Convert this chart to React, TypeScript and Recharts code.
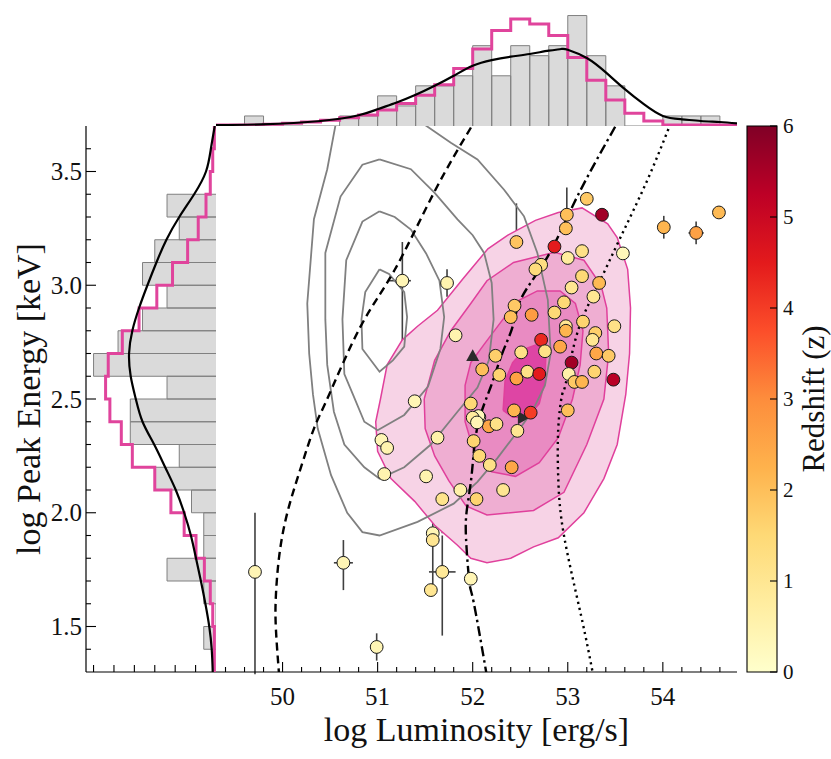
import React from 'react'
import { ComposedChart, Scatter, XAxis, YAxis, ErrorBar, ReferenceArea } from 'recharts'

const FONT = "'Liberation Serif', 'DejaVu Serif', serif"

// ---- axis ranges / ticks ----
const LUM_DOMAIN: [number, number] = [49.3, 54.78]
const EP_DOMAIN: [number, number] = [1.3, 3.7]
const TOP_DOMAIN: [number, number] = [0, 7.05]
const SIDE_DOMAIN: [number, number] = [0, 6.37]
const Z_DOMAIN: [number, number] = [0, 6]

const LUM_MAJOR = [50, 51, 52, 53, 54]
const EP_MAJOR = [1.5, 2.0, 2.5, 3.0, 3.5]
const Z_TICKS = [0, 1, 2, 3, 4, 5, 6]
const HIST_TICKS = [1, 2, 3, 4, 5, 6]

const stepRange = (a: number, b: number, d: number) => {
  const out: number[] = []
  for (let v = a; v <= b + d / 2; v += d) out.push(+v.toFixed(2))
  return out
}
const LUM_TICKS = stepRange(49.4, 54.6, 0.2)
const EP_TICKS = stepRange(1.4, 3.6, 0.1)

// ---- marginal histograms ----
const COUNT_UNIT = 0.6 // one burst, in histogram tick units

const LUM_BIN_START = 49.2
const LUM_BIN_W = 0.2
const LUM_COUNTS = [0, 0, 1, 0, 0, 0, 0, 1, 1, 3, 2, 4, 4, 5, 8, 5, 8, 7, 8, 11, 7, 4, 0, 0, 1, 1, 1, 0]
const LUM_PINK = [0.06, 0.06, 0.06, 0.1, 0.16, 0.24, 0.34, 0.5, 0.66, 0.96, 1.34, 1.84, 2.46, 3.44, 4.6, 5.7, 6.4, 6.1, 5.4, 4.1, 2.74, 1.56, 0.76, 0.3, 0.06, 0.06, 0.06, 0.06]
const LUM_KDE_X = [49.3, 49.78, 50.4, 50.8, 51.0, 51.2, 51.4, 51.6, 51.8, 52.0, 52.2, 52.4, 52.6, 52.8, 52.93, 53.0, 53.2, 53.4, 53.6, 53.8, 54.0, 54.2, 54.4, 54.6, 54.78]
const LUM_KDE_Y = [0.06, 0.1, 0.3, 0.64, 1.0, 1.4, 1.86, 2.4, 3.0, 3.6, 3.94, 4.14, 4.3, 4.5, 4.6, 4.56, 4.06, 3.2, 2.2, 1.3, 0.6, 0.4, 0.3, 0.24, 0.16]

const EP_BIN_START = 1.3
const EP_BIN_W = 0.1
const EP_COUNTS = [0, 1, 0, 1, 4, 1, 1, 2, 5, 3, 7, 7, 4, 10, 8, 6, 4, 6, 5, 3, 4, 0, 0, 0]
const EP_PINK = [0.08, 0.08, 0.16, 0.28, 0.57, 0.98, 1.56, 2.21, 3.0, 4.1, 4.64, 5.2, 5.41, 5.28, 4.59, 3.77, 2.9, 2.13, 1.39, 0.87, 0.49, 0.28, 0.16, 0.08]
const EP_KDE_Y = [3.7, 3.6, 3.5, 3.4, 3.3, 3.2, 3.1, 3.0, 2.9, 2.8, 2.7, 2.6, 2.5, 2.4, 2.3, 2.2, 2.1, 2.0, 1.9, 1.8, 1.7, 1.6, 1.5, 1.4, 1.3]
const EP_KDE_W = [0.06, 0.25, 0.49, 1.07, 1.8, 2.43, 2.92, 3.36, 3.77, 4.1, 4.26, 4.18, 3.93, 3.6, 3.03, 2.49, 1.97, 1.56, 1.23, 0.98, 0.74, 0.52, 0.33, 0.21, 0.16]

// ---- contours (log L, log Ep) ----
const PINK_L1 = [[51.03, 2.5], [51.1, 2.65], [51.26, 2.76], [51.42, 2.82], [51.63, 2.89], [51.9, 3.03], [52.16, 3.16], [52.37, 3.22], [52.66, 3.285], [52.9, 3.32], [53.15, 3.34], [53.42, 3.27], [53.52, 3.21], [53.63, 3.07], [53.66, 2.9], [53.65, 2.7], [53.61, 2.52], [53.52, 2.3], [53.38, 2.15], [53.17, 2.0], [52.9, 1.89], [52.64, 1.85], [52.4, 1.8], [52.15, 1.78], [51.98, 1.8], [51.84, 1.857], [51.6, 1.945], [51.39, 2.05], [51.14, 2.15], [51.0, 2.27], [50.98, 2.4], [51.03, 2.5]]
const PINK_L2 = [[51.49, 2.5], [51.6, 2.67], [51.77, 2.8], [51.98, 2.92], [52.15, 3.02], [52.43, 3.1], [52.86, 3.145], [53.17, 3.11], [53.35, 3.0], [53.41, 2.9], [53.43, 2.7], [53.38, 2.5], [53.2, 2.3], [52.96, 2.09], [52.64, 2.01], [52.15, 1.99], [51.93, 2.03], [51.75, 2.14], [51.6, 2.25], [51.5, 2.37], [51.49, 2.5]]
const PINK_L3 = [[52.12, 2.74], [52.3, 2.84], [52.47, 2.93], [52.68, 2.975], [52.92, 2.975], [53.08, 2.92], [53.16, 2.8], [53.13, 2.65], [53.05, 2.5], [52.9, 2.33], [52.7, 2.22], [52.45, 2.16], [52.2, 2.18], [52.02, 2.26], [51.92, 2.4], [51.92, 2.56], [51.98, 2.66], [52.12, 2.74]]
const PINK_L4 = [[52.32, 2.45], [52.34, 2.58], [52.42, 2.66], [52.55, 2.72], [52.68, 2.74], [52.77, 2.7], [52.76, 2.58], [52.7, 2.48], [52.58, 2.42], [52.42, 2.42], [52.32, 2.45]]

const GRAY_C1 = [[51.02, 3.07], [51.12, 3.05], [51.28, 2.97], [51.31, 2.86], [51.28, 2.73], [51.16, 2.67], [51.02, 2.62], [50.84, 2.72], [50.83, 2.85], [50.87, 2.97], [51.02, 3.07]]
const GRAY_C2 = [[51.02, 3.325], [51.18, 3.3], [51.35, 3.245], [51.51, 3.14], [51.65, 3.02], [51.7, 2.86], [51.66, 2.72], [51.53, 2.555], [51.28, 2.43], [51.0, 2.363], [50.86, 2.4], [50.74, 2.52], [50.65, 2.61], [50.63, 2.85], [50.67, 3.11], [50.84, 3.28], [51.02, 3.325]]
const GRAY_C3 = [[51.02, 3.553], [51.35, 3.51], [51.6, 3.406], [51.84, 3.29], [52.0, 3.22], [52.12, 3.142], [52.2, 3.01], [52.22, 2.85], [52.17, 2.67], [52.05, 2.55], [51.84, 2.444], [51.56, 2.3], [51.28, 2.2], [51.02, 2.15], [50.86, 2.2], [50.65, 2.3], [50.54, 2.444], [50.47, 2.65], [50.45, 2.85], [50.45, 3.142], [50.61, 3.39], [50.84, 3.53], [51.02, 3.553]]
const GRAY_C4 = [[50.6, 3.8], [50.47, 3.51], [50.33, 3.29], [50.26, 2.92], [50.28, 2.7], [50.32, 2.52], [50.37, 2.37], [50.51, 2.165], [50.68, 2.0], [50.84, 1.915], [51.02, 1.9], [51.42, 1.96], [51.8, 2.04], [52.05, 2.136], [52.26, 2.24], [52.47, 2.356], [52.62, 2.44], [52.76, 2.56], [52.82, 2.7], [52.79, 2.936], [52.68, 3.142], [52.54, 3.303], [52.33, 3.42], [52.05, 3.553], [51.77, 3.626], [51.49, 3.707], [51.3, 3.8]]

// ---- model curves ----
const DASHED = [[49.965, 1.28], [49.93, 1.49], [49.93, 1.636], [49.965, 1.81], [50.05, 2.0], [50.19, 2.195], [50.33, 2.37], [50.48, 2.51], [50.82, 2.818], [51.18, 3.068], [51.6, 3.413], [52.02, 3.72]]
const DASHDOT = [[52.15, 1.28], [52.01, 1.607], [51.965, 1.695], [51.93, 1.886], [51.94, 2.018], [51.99, 2.17], [52.05, 2.378], [52.19, 2.554], [52.31, 2.7], [52.42, 2.818], [52.52, 2.95], [52.79, 3.127], [53.1, 3.39], [53.53, 3.72]]
const DOTTED = [[53.27, 1.28], [53.14, 1.548], [52.96, 1.9], [52.9, 2.15], [52.9, 2.37], [52.94, 2.518], [52.98, 2.57], [53.1, 2.79], [53.31, 2.995], [53.56, 3.215], [53.84, 3.465], [54.09, 3.72]]

// ---- bursts: log L, log Ep, redshift, errors [low, high] ----
type Grb = { x: number; y: number; z: number; ex?: number | number[]; ey?: number | number[] }
const GRBS: Grb[] = [
  { x: 51.26, y: 3.02, z: 0.4, ex: [0.14, 0.09], ey: [0.27, 0.17] },
  { x: 51.73, y: 3.01, z: 0.5, ey: 0.06 },
  { x: 51.82, y: 2.78, z: 0.5 },
  { x: 52.1, y: 2.63, z: 2.0, ey: [0.2, 0.17] },
  { x: 51.39, y: 2.49, z: 0.4, ey: [0.1, 0.08] },
  { x: 53.2, y: 3.38, z: 1.8 },
  { x: 52.99, y: 3.31, z: 2.0, ey: [0.1, 0.12] },
  { x: 53.36, y: 3.31, z: 5.6 },
  { x: 52.98, y: 3.25, z: 2.0, ex: 0.1 },
  { x: 52.46, y: 3.19, z: 1.9, ex: [0.15, 0.17], ey: [0.28, 0.17] },
  { x: 52.86, y: 3.17, z: 4.5, ex: 0.17, ey: [0.3, 0.03] },
  { x: 53.0, y: 3.12, z: 0.8 },
  { x: 53.15, y: 3.15, z: 1.2, ey: 0.07 },
  { x: 53.58, y: 3.14, z: 0.3 },
  { x: 54.01, y: 3.255, z: 2.2, ey: 0.05 },
  { x: 54.35, y: 3.23, z: 2.6, ex: 0.08, ey: 0.05 },
  { x: 54.59, y: 3.32, z: 2.1 },
  { x: 52.72, y: 3.09, z: 1.3 },
  { x: 52.66, y: 3.07, z: 1.4, ex: 0.1 },
  { x: 53.15, y: 3.04, z: 1.5, ey: 0.06 },
  { x: 53.33, y: 3.01, z: 2.1, ex: 0.12 },
  { x: 53.04, y: 2.99, z: 1.0 },
  { x: 53.27, y: 2.95, z: 1.0, ey: 0.05 },
  { x: 52.44, y: 2.91, z: 1.8, ey: 0.1 },
  { x: 52.4, y: 2.86, z: 2.0, ey: [0.33, 0.05] },
  { x: 52.62, y: 2.87, z: 2.7 },
  { x: 52.86, y: 2.88, z: 1.5, ey: [0.22, 0.12] },
  { x: 52.96, y: 2.925, z: 1.5 },
  { x: 53.16, y: 2.84, z: 1.6, ex: 0.1 },
  { x: 52.98, y: 2.82, z: 1.0 },
  { x: 52.98, y: 2.8, z: 2.2, ey: [0.12, 0.05] },
  { x: 53.49, y: 2.82, z: 1.2 },
  { x: 53.29, y: 2.79, z: 1.7 },
  { x: 53.26, y: 2.76, z: 1.0, ey: 0.05 },
  { x: 52.72, y: 2.76, z: 4.3, ey: [0.28, 0.18] },
  { x: 52.92, y: 2.73, z: 2.5, ey: [0.2, 0.15] },
  { x: 53.3, y: 2.7, z: 2.5, ey: 0.1 },
  { x: 53.43, y: 2.69, z: 1.8 },
  { x: 52.76, y: 2.71, z: 1.2, ey: [0.2, 0.1] },
  { x: 52.51, y: 2.705, z: 1.2, ey: [0.3, 0.1] },
  { x: 52.24, y: 2.69, z: 1.7, ex: 0.08, ey: [0.1, 0.15] },
  { x: 53.04, y: 2.66, z: 5.6, ey: [0.3, 0.15] },
  { x: 52.28, y: 2.606, z: 1.6, ey: 0.1 },
  { x: 52.575, y: 2.62, z: 1.2 },
  { x: 52.7, y: 2.61, z: 4.5, ey: [0.3, 0.1] },
  { x: 52.46, y: 2.59, z: 2.6, ey: [0.25, 0.1] },
  { x: 53.01, y: 2.61, z: 0.6 },
  { x: 53.07, y: 2.575, z: 1.8 },
  { x: 53.15, y: 2.575, z: 2.2 },
  { x: 53.28, y: 2.62, z: 1.6 },
  { x: 53.48, y: 2.585, z: 5.3 },
  { x: 52.435, y: 2.45, z: 2.2, ey: 0.15 },
  { x: 52.61, y: 2.44, z: 4.0, ey: [0.25, 0.15] },
  { x: 53.0, y: 2.45, z: 2.0, ey: [0.24, 0.07] },
  { x: 52.07, y: 2.42, z: 0.3 },
  { x: 52.17, y: 2.38, z: 2.5, ey: [0.1, 0.08] },
  { x: 52.25, y: 2.39, z: 1.2 },
  { x: 52.47, y: 2.36, z: 1.0, ey: 0.1 },
  { x: 52.01, y: 2.315, z: 1.6 },
  { x: 52.07, y: 2.25, z: 1.5 },
  { x: 52.18, y: 2.21, z: 1.2, ey: 0.1 },
  { x: 52.41, y: 2.2, z: 2.5, ey: 0.06 },
  { x: 52.32, y: 2.1, z: 1.0, ex: 0.16 },
  { x: 52.04, y: 2.06, z: 1.6, ey: [0.2, 0.3] },
  { x: 51.98, y: 1.71, z: 0.4 },
  { x: 51.04, y: 2.32, z: 0.4 },
  { x: 51.1, y: 2.285, z: 0.5 },
  { x: 51.07, y: 2.17, z: 0.5 },
  { x: 51.63, y: 2.33, z: 0.6 },
  { x: 51.51, y: 2.16, z: 0.5, ey: 0.1 },
  { x: 51.68, y: 2.06, z: 1.1, ey: [0.15, 0.2] },
  { x: 51.87, y: 2.1, z: 0.6 },
  { x: 51.98, y: 2.48, z: 1.5 },
  { x: 52.06, y: 2.425, z: 0.3 },
  { x: 52.0, y: 2.418, z: 0.8 },
  { x: 52.045, y: 2.397, z: 0.4 },
  { x: 51.58, y: 1.91, z: 0.4 },
  { x: 51.58, y: 1.88, z: 1.0, ey: [0.2, 0.1] },
  { x: 51.68, y: 1.74, z: 0.9, ex: 0.14, ey: [0.28, 0.16] },
  { x: 51.56, y: 1.66, z: 1.0 },
  { x: 50.64, y: 1.78, z: 0.4, ex: 0.1, ey: [0.12, 0.1] },
  { x: 49.71, y: 1.74, z: 0.4, ey: [0.45, 0.26] },
  { x: 50.99, y: 1.41, z: 0.4, ey: 0.06 },
]

const LIMITS = [
  { x: 52.0, y: 2.69, dir: 'up', ey: [0.27, 0] },
  { x: 52.53, y: 2.418, dir: 'right', ex: [0.41, 0] },
]

// ---- colours ----
const YLORRD = ['#ffffcc', '#ffeda0', '#fed976', '#feb24c', '#fd8d3c', '#fc4e2a', '#e31a1c', '#bd0026', '#800026']
const PINK_FILLS = ['#f7d3e6', '#efaed2', '#e98bc2', '#de45a4']
const PINK_EDGE = '#e0409c'
const PINK_STEP = '#e0449c'
const BAR_FILL = '#dadada'
const BAR_EDGE = '#808080'
const AXIS_LINE = { stroke: '#000', strokeWidth: 1.2 }

const hexRgb = (c: string) => [1, 3, 5].map((i) => parseInt(c.slice(i, i + 2), 16))
function zColor(z: number) {
  const n = YLORRD.length - 1
  const t = Math.max(0, Math.min(1, z / 6)) * n
  const i = Math.min(Math.floor(t), n - 1)
  const f = t - i
  const a = hexRgb(YLORRD[i])
  const b = hexRgb(YLORRD[i + 1])
  return `rgb(${a.map((v, k) => Math.round(v + (b[k] - v) * f)).join(',')})`
}

const pts = (arr: number[][]) => arr.map(([x, y]) => ({ x, y }))

const topBars = LUM_COUNTS.flatMap((c, i) => {
  if (!c) return []
  const x0 = LUM_BIN_START + i * LUM_BIN_W
  const x1 = x0 + LUM_BIN_W
  const h = c * COUNT_UNIT
  return [{ x: x0, y: 0 }, { x: x0, y: h }, { x: x1, y: h }, { x: x1, y: 0 }]
})
const topPink = LUM_PINK.flatMap((v, i) => {
  const x0 = LUM_BIN_START + i * LUM_BIN_W
  return [{ x: x0, y: v }, { x: x0 + LUM_BIN_W, y: v }]
})
const topKde = LUM_KDE_X.map((x, i) => ({ x, y: LUM_KDE_Y[i] }))

const sideBars = EP_COUNTS.flatMap((c, i) => {
  if (!c) return []
  const y0 = EP_BIN_START + i * EP_BIN_W
  const y1 = y0 + EP_BIN_W
  const w = c * COUNT_UNIT
  return [{ x: 0, y: y0 }, { x: w, y: y0 }, { x: w, y: y1 }, { x: 0, y: y1 }]
})
const sidePink = EP_PINK.flatMap((v, i) => {
  const y0 = EP_BIN_START + i * EP_BIN_W
  return [{ x: v, y: y0 }, { x: v, y: y0 + EP_BIN_W }]
})
const sideKde = EP_KDE_Y.map((y, i) => ({ x: EP_KDE_W[i], y }))

// inward-pointing matplotlib style ticks
function InTick(props: any) {
  const { x, y, payload, side, majors, showLabel, digits = 0, fontSize = 25, big = 10, small = 5 } = props
  const v = payload?.value
  const isMajor = majors ? majors.some((m: number) => Math.abs(m - v) < 1e-6) : true
  const len = isMajor ? big : small
  const dx = side === 'left' ? 1 : side === 'right' ? -1 : 0
  const dy = side === 'bottom' ? -1 : side === 'top' ? 1 : 0
  let text = null
  if (showLabel && isMajor) {
    const s = Number(v).toFixed(digits)
    const tp = { fill: '#111', style: { fontFamily: FONT, fontSize } }
    if (side === 'bottom') text = <text x={x} y={y + 33} textAnchor="middle" {...tp}>{s}</text>
    if (side === 'left') text = <text x={x - 4} y={y + 8.5} textAnchor="end" {...tp}>{s}</text>
    if (side === 'right') text = <text x={x + 6} y={y + 7} textAnchor="start" {...tp}>{s}</text>
  }
  return (
    <g>
      <line x1={x} y1={y} x2={x + dx * len} y2={y + dy * len} stroke="#000" strokeWidth={1.1} />
      {text}
    </g>
  )
}

const noDot = () => <g />
const grbDot = (p: any) => (
  <circle cx={p.cx} cy={p.cy} r={6.4} fill={zColor(p.payload.z)} stroke="#1a1a1a" strokeWidth={1} />
)
const limitMark = (p: any) => {
  const { cx, cy } = p
  const s = 6.5
  const points =
    p.payload.dir === 'up'
      ? `${cx},${cy - s} ${cx - s},${cy + s * 0.8} ${cx + s},${cy + s * 0.8}`
      : `${cx + s},${cy} ${cx - s * 0.8},${cy - s} ${cx - s * 0.8},${cy + s}`
  return <polygon points={points} fill="#2b2b2b" />
}

const layer: React.CSSProperties = { position: 'absolute', left: 0, top: 0 }

function TopHistogram() {
  return (
    <div style={layer}>
      <ComposedChart width={831} height={126} margin={{ top: 8, right: 94, bottom: 0, left: 216 }}>
        <Scatter data={topBars} xAxisId="x" yAxisId="y" shape={noDot} line={{ stroke: BAR_EDGE, strokeWidth: 1, fill: BAR_FILL }} isAnimationActive={false} />
        <Scatter data={topPink} xAxisId="x" yAxisId="y" shape={noDot} line={{ stroke: PINK_STEP, strokeWidth: 3 }} isAnimationActive={false} />
        <Scatter data={topKde} xAxisId="x" yAxisId="y" shape={noDot} lineJointType="natural" line={{ stroke: '#000', strokeWidth: 2.2 }} isAnimationActive={false} />
        <XAxis xAxisId="x" type="number" dataKey="x" domain={LUM_DOMAIN} allowDataOverflow hide />
        <XAxis xAxisId="xt" orientation="top" type="number" dataKey="x" domain={LUM_DOMAIN} allowDataOverflow height={0} ticks={LUM_TICKS} interval={0} tickSize={0} tickMargin={0} tickLine={false} axisLine={AXIS_LINE} tick={<InTick side="top" majors={LUM_MAJOR} />} />
        <YAxis yAxisId="y" type="number" dataKey="y" domain={TOP_DOMAIN} allowDataOverflow width={0} ticks={HIST_TICKS} interval={0} tickSize={0} tickMargin={0} tickLine={false} axisLine={AXIS_LINE} tick={<InTick side="left" big={8} />} />
        <YAxis yAxisId="yr" orientation="right" type="number" dataKey="y" domain={TOP_DOMAIN} allowDataOverflow width={0} ticks={HIST_TICKS} interval={0} tickSize={0} tickMargin={0} tickLine={false} axisLine={AXIS_LINE} tick={<InTick side="right" big={8} />} />
      </ComposedChart>
    </div>
  )
}

function SideHistogram() {
  return (
    <div style={layer}>
      <ComposedChart width={216} height={759} margin={{ top: 126, right: 0, bottom: 0, left: 0 }}>
        <Scatter data={sideBars} xAxisId="x" yAxisId="y" shape={noDot} line={{ stroke: BAR_EDGE, strokeWidth: 1, fill: BAR_FILL }} isAnimationActive={false} />
        <Scatter data={sidePink} xAxisId="x" yAxisId="y" shape={noDot} line={{ stroke: PINK_STEP, strokeWidth: 3 }} isAnimationActive={false} />
        <Scatter data={sideKde} xAxisId="x" yAxisId="y" shape={noDot} lineJointType="natural" line={{ stroke: '#000', strokeWidth: 2.2 }} isAnimationActive={false} />
        <XAxis xAxisId="x" type="number" dataKey="x" domain={SIDE_DOMAIN} reversed allowDataOverflow height={87} ticks={HIST_TICKS} interval={0} tickSize={0} tickMargin={0} tickLine={false} axisLine={AXIS_LINE} tick={<InTick side="bottom" big={7} />} />
        <XAxis xAxisId="xt" orientation="top" type="number" dataKey="x" domain={SIDE_DOMAIN} reversed allowDataOverflow height={0} ticks={HIST_TICKS} interval={0} tickSize={0} tickMargin={0} tickLine={false} axisLine={AXIS_LINE} tick={<InTick side="top" big={7} />} />
        <YAxis
          yAxisId="y" type="number" dataKey="y" domain={EP_DOMAIN} allowDataOverflow width={86}
          ticks={EP_TICKS} interval={0} tickSize={0} tickMargin={0} tickLine={false} axisLine={AXIS_LINE}
          tick={<InTick side="left" majors={EP_MAJOR} showLabel digits={1} />}
          label={{ value: 'log Peak Energy [keV]', angle: -90, position: 'insideLeft', offset: 28, fontSize: 34, fill: '#111', style: { textAnchor: 'middle', fontFamily: FONT } }}
        />
        <YAxis yAxisId="yr" orientation="right" type="number" dataKey="y" domain={EP_DOMAIN} allowDataOverflow width={0} ticks={EP_TICKS} interval={0} tickSize={0} tickMargin={0} tickLine={false} axisLine={AXIS_LINE} tick={<InTick side="right" majors={EP_MAJOR} />} />
      </ComposedChart>
    </div>
  )
}

function MainPanel() {
  const common = { xAxisId: 'x', yAxisId: 'y', shape: noDot, isAnimationActive: false }
  return (
    <div style={layer}>
      <ComposedChart width={831} height={759} margin={{ top: 126, right: 94, bottom: 0, left: 216 }}>
        {[PINK_L1, PINK_L2, PINK_L3, PINK_L4].map((c, i) => (
          <Scatter key={`pink${i}`} data={pts(c)} {...common} line={{ stroke: PINK_EDGE, strokeWidth: 1.5, fill: PINK_FILLS[i] }} />
        ))}
        {[GRAY_C1, GRAY_C2, GRAY_C3, GRAY_C4].map((c, i) => (
          <Scatter key={`gray${i}`} data={pts(c)} {...common} line={{ stroke: '#808080', strokeWidth: 1.8 }} />
        ))}
        <Scatter data={pts(DASHED)} {...common} lineJointType="natural" line={{ stroke: '#000', strokeWidth: 2.4, strokeDasharray: '8 5' }} />
        <Scatter data={pts(DASHDOT)} {...common} lineJointType="natural" line={{ stroke: '#000', strokeWidth: 2.4, strokeDasharray: '10 4 2.5 4' }} />
        <Scatter data={pts(DOTTED)} {...common} lineJointType="natural" line={{ stroke: '#000', strokeWidth: 2.4, strokeDasharray: '2.2 4' }} />
        <Scatter data={LIMITS} xAxisId="x" yAxisId="y" shape={limitMark} isAnimationActive={false}>
          <ErrorBar dataKey="ey" direction="y" width={0} stroke="#2b2b2b" strokeWidth={1.6} />
          <ErrorBar dataKey="ex" direction="x" width={0} stroke="#2b2b2b" strokeWidth={1.6} />
        </Scatter>
        <Scatter data={GRBS} xAxisId="x" yAxisId="y" shape={grbDot} isAnimationActive={false}>
          <ErrorBar dataKey="ex" direction="x" width={0} stroke="#404040" strokeWidth={1.6} />
          <ErrorBar dataKey="ey" direction="y" width={0} stroke="#404040" strokeWidth={1.6} />
        </Scatter>
        <XAxis
          xAxisId="x" type="number" dataKey="x" domain={LUM_DOMAIN} allowDataOverflow height={87}
          ticks={LUM_TICKS} interval={0} tickSize={0} tickMargin={0} tickLine={false} axisLine={AXIS_LINE}
          tick={<InTick side="bottom" majors={LUM_MAJOR} showLabel />}
          label={{ value: 'log Luminosity [erg/s]', position: 'insideBottom', offset: 18, fontSize: 34, fill: '#111', style: { fontFamily: FONT } }}
        />
        <XAxis xAxisId="xt" orientation="top" type="number" dataKey="x" domain={LUM_DOMAIN} allowDataOverflow height={0} ticks={LUM_TICKS} interval={0} tickSize={0} tickMargin={0} tickLine={false} axisLine={AXIS_LINE} tick={<InTick side="top" majors={LUM_MAJOR} />} />
        <YAxis yAxisId="y" type="number" dataKey="y" domain={EP_DOMAIN} allowDataOverflow width={0} ticks={EP_TICKS} interval={0} tickSize={0} tickMargin={0} tickLine={false} axisLine={AXIS_LINE} tick={<InTick side="left" majors={EP_MAJOR} />} />
        <YAxis yAxisId="yr" orientation="right" type="number" dataKey="y" domain={EP_DOMAIN} allowDataOverflow width={0} ticks={EP_TICKS} interval={0} tickSize={0} tickMargin={0} tickLine={false} axisLine={AXIS_LINE} tick={<InTick side="right" majors={EP_MAJOR} />} />
      </ComposedChart>
    </div>
  )
}

function ColorBar() {
  return (
    <div style={layer}>
      <ComposedChart width={831} height={759} margin={{ top: 126, right: 0, bottom: 87, left: 747 }}>
        <defs>
          <linearGradient id="ylorrd" x1="0" y1="1" x2="0" y2="0">
            {YLORRD.map((c, i) => (
              <stop key={c} offset={i / (YLORRD.length - 1)} stopColor={c} />
            ))}
          </linearGradient>
        </defs>
        <ReferenceArea xAxisId="cx" yAxisId="z" x1={0} x2={1} y1={0} y2={6} fill="url(#ylorrd)" fillOpacity={1} stroke="#000" strokeWidth={1.1} ifOverflow="visible" />
        <XAxis xAxisId="cx" type="number" dataKey="x" domain={[0, 1]} allowDataOverflow height={0} tick={false} axisLine={false} />
        <YAxis
          yAxisId="z" orientation="right" type="number" dataKey="z" domain={Z_DOMAIN} allowDataOverflow width={54}
          ticks={Z_TICKS} interval={0} tickSize={0} tickMargin={0} tickLine={false} axisLine={false}
          tick={<InTick side="right" showLabel fontSize={21} big={7} />}
          label={{ value: 'Redshift (z)', angle: -90, position: 'insideLeft', offset: 36, fontSize: 31, fill: '#111', style: { textAnchor: 'middle', fontFamily: FONT } }}
        />
      </ComposedChart>
    </div>
  )
}

export default function App() {
  return (
    <div style={{ position: 'absolute', left: 0, top: 0, width: 831, height: 759, background: '#fff', fontFamily: FONT }}>
      <SideHistogram />
      <TopHistogram />
      <MainPanel />
      <ColorBar />
    </div>
  )
}
